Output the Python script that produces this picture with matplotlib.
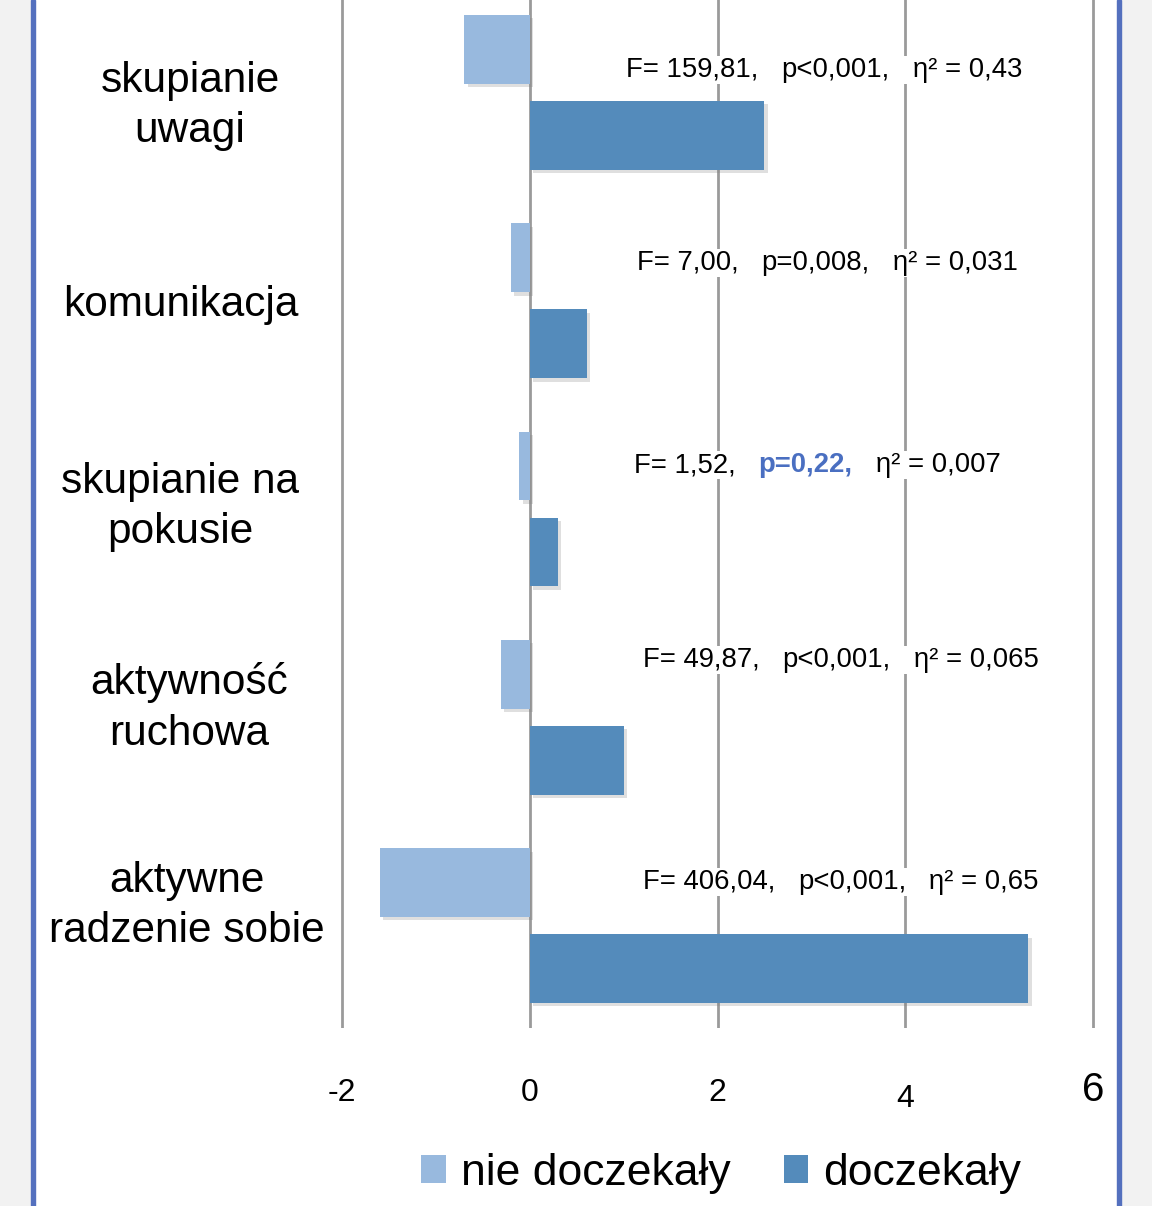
import numpy as np
import matplotlib
matplotlib.use("Agg")
import matplotlib.pyplot as plt
import matplotlib.patheffects as pe
from matplotlib.patches import Patch, Rectangle
from matplotlib.transforms import blended_transform_factory

##### DATA #####
categories = ["skupianie\nuwagi", "komunikacja", "skupianie na\npokusie",
              "aktywność\nruchowa", "aktywne\nradzenie sobie"]
nie_doczekaly = [-0.70, -0.20, -0.11, -0.31, -1.60]
doczekaly = [2.50, 0.61, 0.30, 1.00, 5.31]
f_vals = ["159,81", "7,00", "1,52", "49,87", "406,04"]
p_vals = ["p<0,001", "p=0,008", "p=0,22", "p<0,001", "p<0,001"]
eta_vals = ["0,43", "0,031", "0,007", "0,065", "0,65"]
non_significant = [False, False, True, False, False]
xticks = [-2, 0, 2, 4, 6]
series_names = ["nie doczekały", "doczekały"]

##### LAYOUT / STYLE #####
W, H = 1152, 1206
light = "#98B9DE"
dark = "#548BBB"
frame_blue = "#5470BE"
plt.rcParams["font.family"] = ["Liberation Sans", "DejaVu Sans"]

# label and annotation anchors (pixels)
label_px = [(190, 106), (181, 305), (180, 507), (189, 708), (187, 906)]
stat_px = [(626, 70), (637, 263), (634, 465), (643, 660), (643, 882)]

fig = plt.figure(figsize=(W / 100, H / 100), dpi=100)
fig.patch.set_facecolor("white")
pad_u = 0.05  # small margin so edge gridlines are not clipped
ppu = 751 / 8
ax = fig.add_axes([(342 - pad_u * ppu) / W, 1 - 1028 / H, (751 + 2 * pad_u * ppu) / W, 1028 / H])

y = np.arange(len(categories))
bar_h = 0.331
off = 0.2065
shadow = [pe.SimplePatchShadow(offset=(2.5, -2.5), shadow_rgbFace="grey", alpha=0.25), pe.Normal()]
b1 = ax.barh(y - off, nie_doczekaly, height=bar_h, color=light, zorder=3)
b2 = ax.barh(y + off, doczekaly, height=bar_h, color=dark, zorder=3)
for b in list(b1) + list(b2):
    b.set_path_effects(shadow)

ax.set_xlim(-2 - pad_u, 6 + pad_u)
ax.set_ylim(4.492, -0.444)
ax.set_xticks(xticks)
ax.set_yticks([])
ax.tick_params(axis="x", length=0, labelbottom=False)
for s in ax.spines.values():
    s.set_visible(False)
ax.grid(axis="x", color="#9A9A9A", linewidth=2)
ax.set_axisbelow(True)

# x tick labels (slightly irregular like the original)
tr = blended_transform_factory(ax.transData, fig.transFigure)
tick_sizes = [23, 23, 23, 23, 29]
tick_y = [1093, 1093, 1093, 1099, 1090]
for t, fs, ty in zip(xticks, tick_sizes, tick_y):
    ax.text(t, 1 - ty / H, str(t), transform=tr, ha="center", va="center", fontsize=fs)

# category labels
for lab, (px, py) in zip(categories, label_px):
    fig.text(px / W, 1 - py / H, lab, ha="center", va="center", fontsize=30.5,
             multialignment="center", linespacing=1.33)

# stat annotations
box = dict(facecolor="white", edgecolor="none", pad=1)
fs_stat = 19.8
for i, (px, py) in enumerate(stat_px):
    t1 = fig.text(px / W, 1 - py / H, f"F= {f_vals[i]},   ", ha="left", va="center",
                  fontsize=fs_stat, bbox=box)
    if non_significant[i]:
        t2 = ax.annotate(f"{p_vals[i]},", xy=(1, 0), xycoords=t1, ha="left", va="bottom",
                         fontsize=fs_stat, color="#4A6FC1", fontweight="bold", bbox=box)
    else:
        t2 = ax.annotate(f"{p_vals[i]},", xy=(1, 0), xycoords=t1, ha="left", va="bottom",
                         fontsize=fs_stat, bbox=box)
    ax.annotate(f"   η² = {eta_vals[i]}", xy=(1, 0), xycoords=t2, ha="left", va="bottom",
                fontsize=fs_stat, bbox=box)

# legend
handles = [Patch(facecolor=light), Patch(facecolor=dark)]
fig.legend(handles, series_names, loc="center", bbox_to_anchor=(721 / W, 1 - 1173 / H),
           ncol=2, frameon=False, prop={"size": 32},
           handlelength=0.56, handleheight=0.6, handletextpad=0.32, columnspacing=1.2)

# page frame
fig.patches.append(Rectangle((0, 0), 31 / W, 1, transform=fig.transFigure, color="#F2F2F2"))
fig.patches.append(Rectangle((1121 / W, 0), 31 / W, 1, transform=fig.transFigure, color="#F2F2F2"))
fig.patches.append(Rectangle((31 / W, 0), 4 / W, 1, transform=fig.transFigure, color=frame_blue))
fig.patches.append(Rectangle((1117 / W, 0), 4 / W, 1, transform=fig.transFigure, color=frame_blue))

fig.savefig("out.png", dpi=100)
